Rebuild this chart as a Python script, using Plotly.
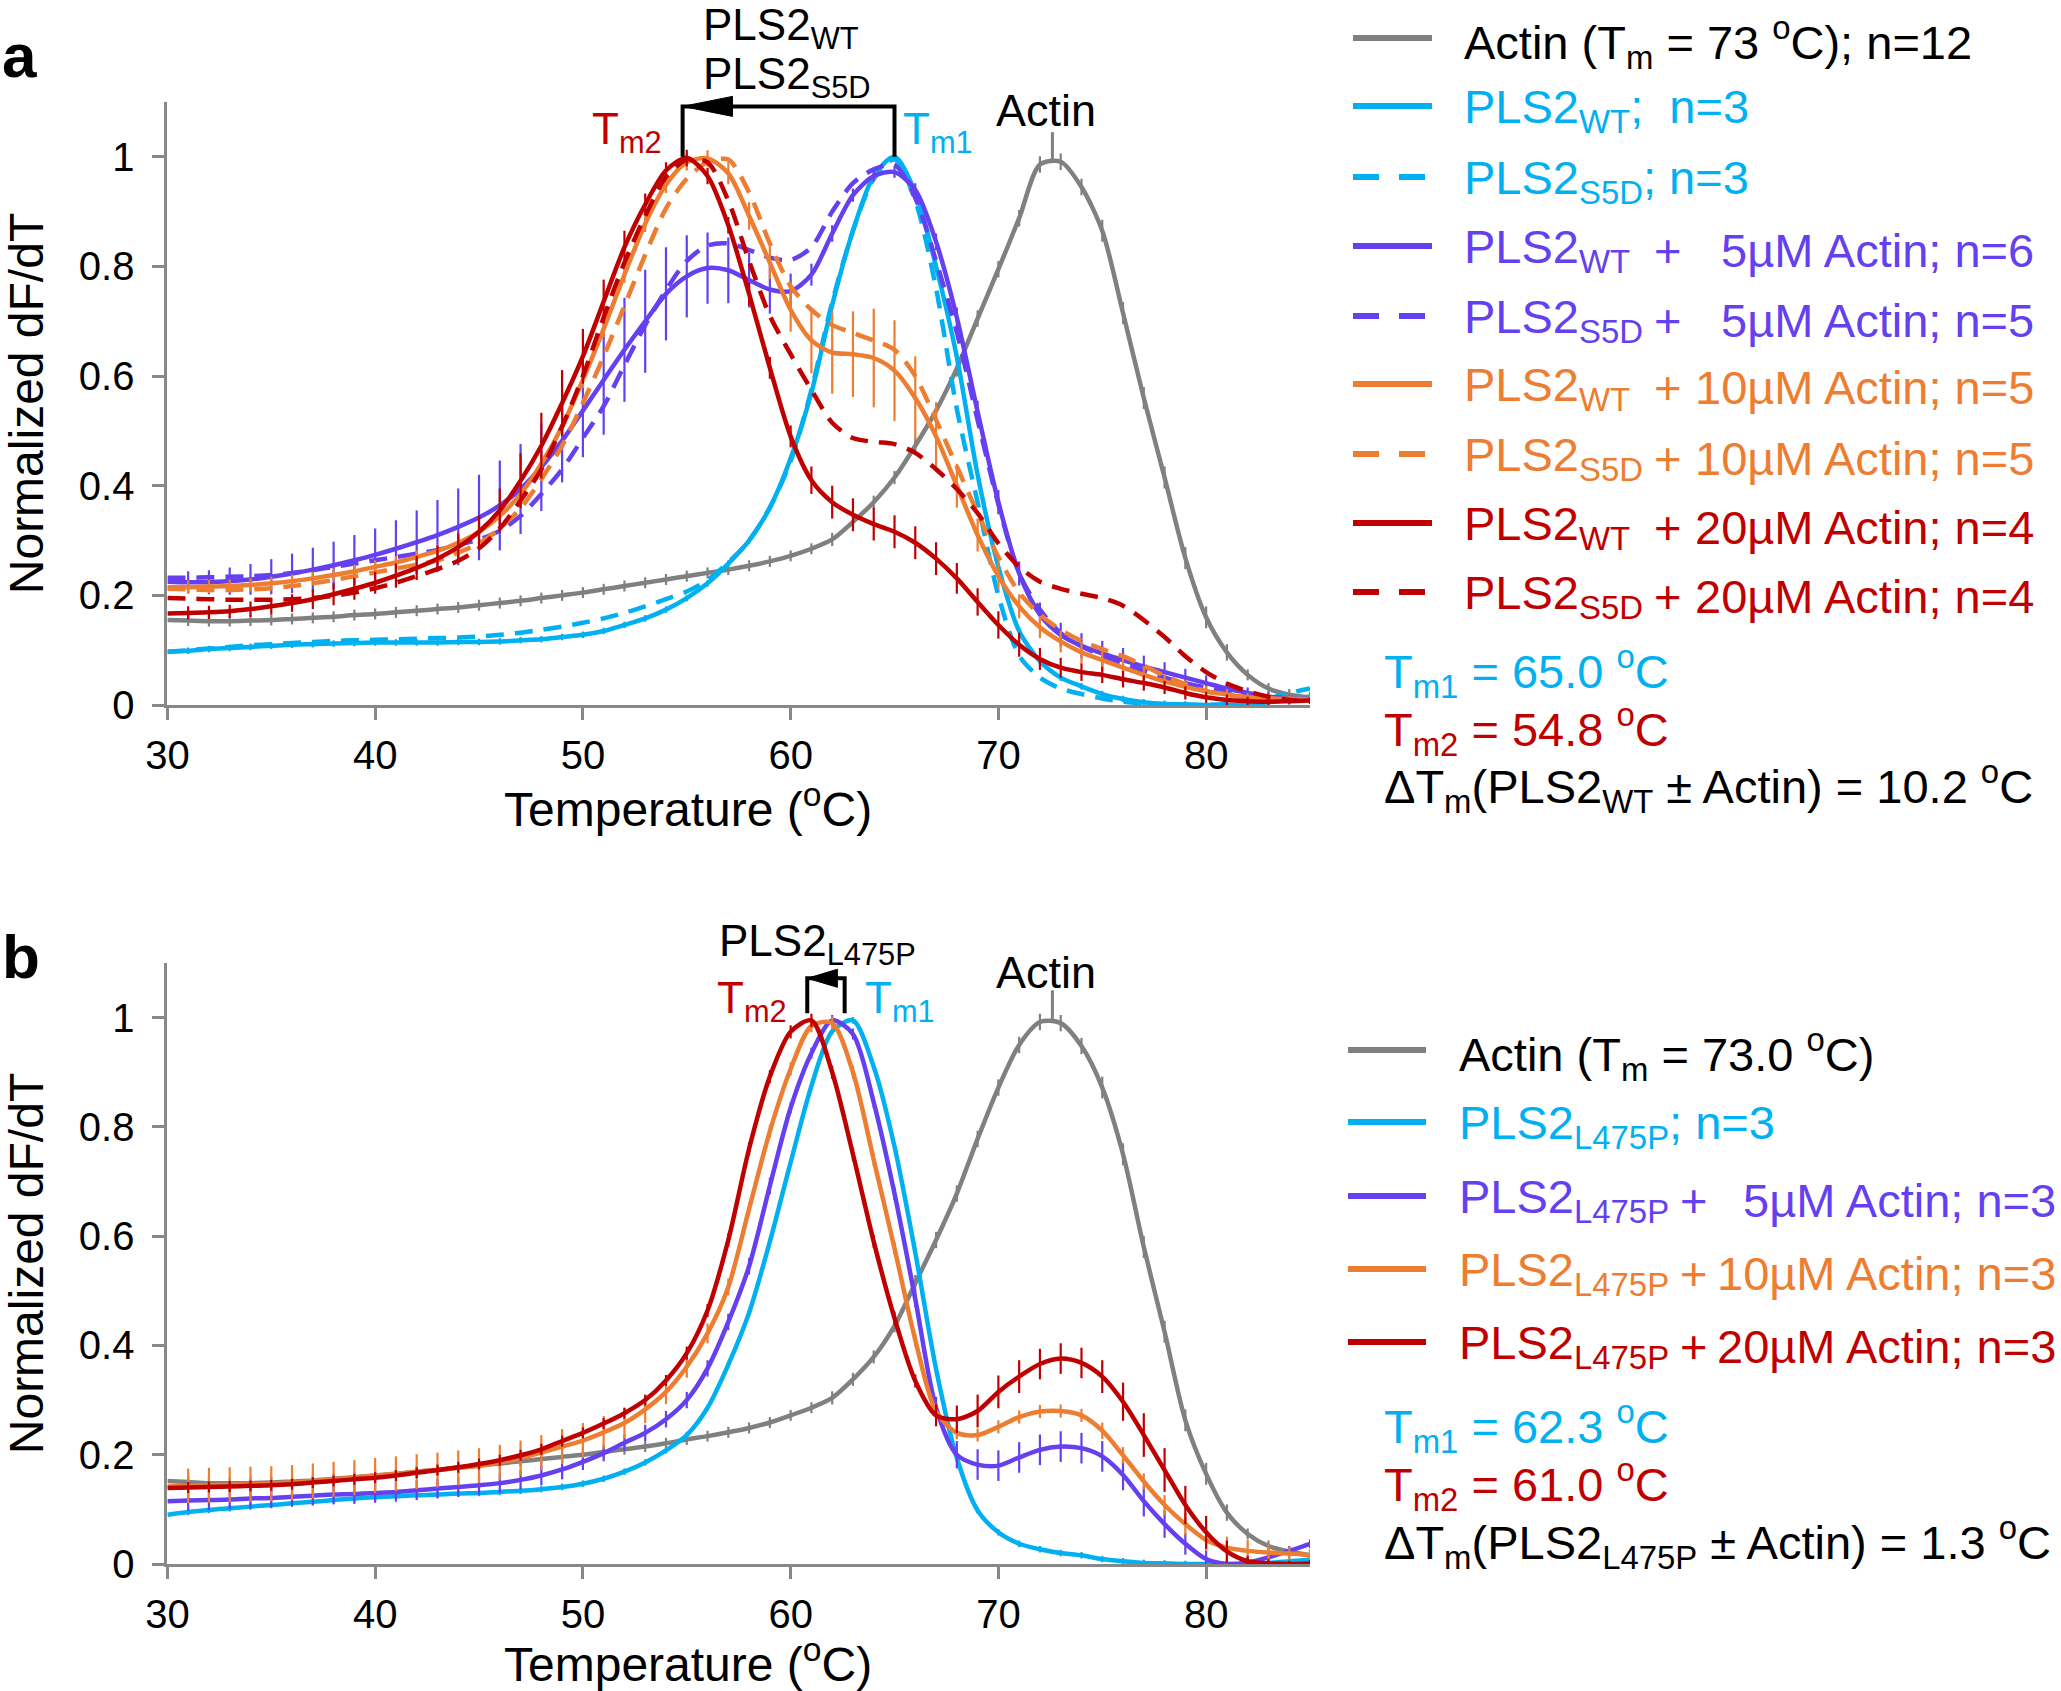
import plotly.graph_objects as go

W, H = 2061, 1691
FONT = "Liberation Sans, Arial, sans-serif"
GRAY, CYAN, PURPLE, ORANGE, RED = "#808080", "#00B0F0", "#6440F0", "#ED7D31", "#C00000"
AXC = "#888888"

T = list(range(30, 86))

# ---------------- panel a data ----------------
actin_a = [0.155, 0.154, 0.153, 0.153, 0.154, 0.155, 0.157, 0.159, 0.161, 0.164,
           0.166, 0.169, 0.172, 0.175, 0.178, 0.182, 0.186, 0.190, 0.195, 0.200,
           0.205, 0.211, 0.217, 0.223, 0.229, 0.235, 0.241, 0.247, 0.254, 0.262,
           0.272, 0.285, 0.302, 0.334, 0.370, 0.415, 0.473, 0.537, 0.614, 0.705,
           0.795, 0.888, 0.986, 0.991, 0.945, 0.865, 0.715, 0.560, 0.415, 0.268,
           0.160, 0.096, 0.055, 0.030, 0.019, 0.014]
actin_err = [0] + [0.01] * 31 + [0.012] * 4 + [0.015] * 9 + [0.02] * 6 + [0.015, 0.01, 0.01, 0.01, 0.01]
wt_a = [0.097, 0.099, 0.102, 0.104, 0.106, 0.108, 0.110, 0.111, 0.112, 0.113,
        0.114, 0.114, 0.114, 0.114, 0.115, 0.115, 0.116, 0.118, 0.120, 0.124,
        0.128, 0.135, 0.146, 0.158, 0.174, 0.195, 0.222, 0.258, 0.300, 0.360,
        0.450, 0.570, 0.730, 0.865, 0.965, 1.000, 0.935, 0.800, 0.635, 0.420,
        0.252, 0.135, 0.080, 0.050, 0.034, 0.020, 0.011, 0.005, 0.002, 0.001,
        0.000, 0.000, 0.001, 0.005, 0.010, 0.015]
small_err = [0] + [0.006] * 55
s5d_a = [0.097, 0.100, 0.103, 0.106, 0.109, 0.111, 0.113, 0.115, 0.117, 0.118,
         0.119, 0.120, 0.121, 0.122, 0.123, 0.125, 0.128, 0.132, 0.137, 0.143,
         0.150, 0.158, 0.168, 0.180, 0.193, 0.207, 0.228, 0.260, 0.300, 0.360,
         0.445, 0.575, 0.735, 0.865, 0.960, 0.995, 0.920, 0.760, 0.540, 0.370,
         0.200, 0.090, 0.050, 0.030, 0.020, 0.012, 0.006, 0.003, 0.001, 0.000,
         0.000, 0.002, 0.006, 0.012, 0.022, 0.030]
wt5_a = [0.225, 0.224, 0.224, 0.226, 0.229, 0.234, 0.240, 0.247, 0.255, 0.264,
         0.274, 0.285, 0.297, 0.310, 0.325, 0.342, 0.364, 0.394, 0.434, 0.482,
         0.537, 0.593, 0.648, 0.700, 0.750, 0.782, 0.797, 0.793, 0.775, 0.758,
         0.755, 0.785, 0.860, 0.930, 0.965, 0.972, 0.940, 0.845, 0.707, 0.535,
         0.370, 0.240, 0.165, 0.128, 0.108, 0.094, 0.082, 0.070, 0.060, 0.050,
         0.040, 0.030, 0.022, 0.015, 0.012, 0.011]
wt5_a_err = [0, 0.020, 0.022, 0.025, 0.028, 0.032, 0.036, 0.040, 0.043, 0.046,
             0.048, 0.052, 0.058, 0.064, 0.070, 0.078, 0.082, 0.082, 0.080, 0.076,
             0.085, 0.100, 0.095, 0.094, 0.085, 0.075, 0.065, 0.060, 0.050, 0.044,
             0.032, 0.020, 0.015, 0.012, 0.010, 0.010, 0.012, 0.015, 0.018, 0.020,
             0.022, 0.022, 0.022, 0.022, 0.023, 0.023, 0.022, 0.020, 0.018, 0.016,
             0.014, 0.012, 0.010, 0.008, 0.006, 0.005]
s5d5_a = [0.232, 0.232, 0.233, 0.234, 0.235, 0.237, 0.241, 0.246, 0.252, 0.258,
          0.264, 0.270, 0.276, 0.283, 0.292, 0.302, 0.318, 0.345, 0.385, 0.430,
          0.487, 0.545, 0.620, 0.693, 0.757, 0.810, 0.838, 0.842, 0.830, 0.816,
          0.812, 0.835, 0.900, 0.952, 0.977, 0.985, 0.925, 0.810, 0.680, 0.520,
          0.366, 0.240, 0.174, 0.131, 0.107, 0.090, 0.075, 0.062, 0.050, 0.040,
          0.032, 0.025, 0.019, 0.015, 0.012, 0.011]
wt10_a = [0.215, 0.215, 0.216, 0.217, 0.219, 0.222, 0.226, 0.231, 0.237, 0.244,
          0.252, 0.260, 0.270, 0.281, 0.296, 0.316, 0.345, 0.385, 0.440, 0.508,
          0.593, 0.686, 0.785, 0.878, 0.949, 0.990, 0.997, 0.970, 0.892, 0.807,
          0.721, 0.665, 0.643, 0.640, 0.633, 0.610, 0.560, 0.490, 0.400, 0.310,
          0.235, 0.180, 0.142, 0.116, 0.096, 0.082, 0.068, 0.055, 0.043, 0.033,
          0.025, 0.019, 0.014, 0.012, 0.011, 0.011]
wt10_a_err = [0, 0.012, 0.012, 0.012, 0.012, 0.012, 0.012, 0.012, 0.012, 0.012,
              0.012, 0.012, 0.012, 0.012, 0.012, 0.015, 0.015, 0.015, 0.015, 0.015,
              0.015, 0.015, 0.015, 0.015, 0.015, 0.015, 0.015, 0.020, 0.025, 0.030,
              0.040, 0.060, 0.075, 0.078, 0.090, 0.092, 0.076, 0.060, 0.040, 0.030,
              0.025, 0.022, 0.020, 0.020, 0.020, 0.020, 0.018, 0.016, 0.014, 0.012,
              0.010, 0.010, 0.008, 0.008, 0.006, 0.006]
s5d10_a = [0.212, 0.211, 0.210, 0.210, 0.211, 0.213, 0.217, 0.222, 0.228, 0.235,
           0.242, 0.249, 0.256, 0.264, 0.278, 0.295, 0.322, 0.359, 0.412, 0.473,
           0.551, 0.636, 0.728, 0.821, 0.906, 0.960, 0.990, 0.995, 0.935, 0.842,
           0.764, 0.721, 0.693, 0.679, 0.665, 0.648, 0.600, 0.520, 0.435, 0.350,
           0.270, 0.205, 0.165, 0.137, 0.117, 0.102, 0.089, 0.072, 0.053, 0.038,
           0.025, 0.018, 0.014, 0.012, 0.011, 0.011]
wt20_a = [0.167, 0.168, 0.169, 0.171, 0.175, 0.180, 0.186, 0.193, 0.202, 0.212,
          0.223, 0.236, 0.250, 0.267, 0.288, 0.316, 0.355, 0.409, 0.473, 0.551,
          0.636, 0.736, 0.835, 0.913, 0.975, 0.998, 0.965, 0.875, 0.750, 0.615,
          0.490, 0.410, 0.370, 0.347, 0.330, 0.316, 0.296, 0.267, 0.231, 0.188,
          0.146, 0.110, 0.084, 0.068, 0.060, 0.055, 0.047, 0.040, 0.032, 0.022,
          0.014, 0.009, 0.007, 0.006, 0.007, 0.008]
wt20_a_err = [0, 0.012, 0.012, 0.012, 0.014, 0.015, 0.016, 0.018, 0.020, 0.020,
              0.020, 0.022, 0.022, 0.024, 0.025, 0.030, 0.040, 0.050, 0.060, 0.060,
              0.050, 0.040, 0.030, 0.020, 0.015, 0.015, 0.015, 0.015, 0.020, 0.020,
              0.020, 0.025, 0.030, 0.030, 0.030, 0.030, 0.030, 0.030, 0.028, 0.025,
              0.025, 0.022, 0.020, 0.018, 0.016, 0.015, 0.015, 0.014, 0.012, 0.012,
              0.010, 0.010, 0.008, 0.008, 0.006, 0.006]
s5d20_a = [0.195, 0.194, 0.193, 0.192, 0.192, 0.192, 0.193, 0.195, 0.199, 0.205,
           0.213, 0.223, 0.235, 0.248, 0.263, 0.286, 0.322, 0.373, 0.430, 0.508,
           0.600, 0.707, 0.807, 0.892, 0.963, 0.995, 0.990, 0.920, 0.810, 0.710,
           0.640, 0.575, 0.515, 0.487, 0.480, 0.476, 0.460, 0.430, 0.394, 0.350,
           0.295, 0.252, 0.225, 0.212, 0.203, 0.195, 0.181, 0.155, 0.124, 0.089,
           0.060, 0.039, 0.025, 0.015, 0.009, 0.007]

# ---------------- panel b data ----------------
actin_b = [0.152, 0.150, 0.148, 0.148, 0.148, 0.149, 0.151, 0.153, 0.156, 0.159,
           0.162, 0.165, 0.169, 0.172, 0.176, 0.180, 0.184, 0.188, 0.192, 0.196,
           0.200, 0.205, 0.210, 0.215, 0.221, 0.228, 0.234, 0.241, 0.249, 0.259,
           0.272, 0.286, 0.304, 0.338, 0.379, 0.436, 0.514, 0.593, 0.678, 0.778,
           0.872, 0.950, 0.992, 0.990, 0.948, 0.872, 0.750, 0.580, 0.425, 0.263,
           0.165, 0.094, 0.055, 0.033, 0.023, 0.016]
l475_b = [0.090, 0.095, 0.099, 0.102, 0.105, 0.108, 0.111, 0.114, 0.117, 0.120,
          0.122, 0.124, 0.126, 0.127, 0.129, 0.130, 0.132, 0.134, 0.137, 0.141,
          0.147, 0.156, 0.169, 0.186, 0.208, 0.236, 0.286, 0.365, 0.460, 0.590,
          0.735, 0.875, 0.975, 0.995, 0.910, 0.764, 0.570, 0.357, 0.194, 0.098,
          0.058, 0.037, 0.027, 0.020, 0.016, 0.009, 0.005, 0.002, 0.001, 0.000,
          0.000, 0.000, 0.000, 0.002, 0.005, 0.008]
l475_5_b = [0.115, 0.116, 0.117, 0.118, 0.120, 0.121, 0.123, 0.125, 0.127, 0.128,
            0.130, 0.132, 0.135, 0.138, 0.141, 0.144, 0.148, 0.154, 0.162, 0.173,
            0.187, 0.203, 0.222, 0.240, 0.265, 0.300, 0.358, 0.443, 0.545, 0.692,
            0.835, 0.935, 0.995, 0.970, 0.845, 0.678, 0.485, 0.286, 0.200, 0.182,
            0.180, 0.195, 0.209, 0.215, 0.212, 0.197, 0.163, 0.115, 0.073, 0.037,
            0.009, 0.000, 0.003, 0.012, 0.024, 0.037]
l475_5_b_err = [0] + [0.018] * 19 + [0.015] * 10 + [0.01, 0.01, 0.01, 0.01, 0.01, 0.012, 0.015, 0.02, 0.025, 0.028] + \
               [0.028] * 8 + [0.025, 0.02] + [0.015, 0.01, 0.01, 0.008, 0.008, 0.008]
l475_10_b = [0.142, 0.143, 0.144, 0.145, 0.146, 0.147, 0.149, 0.152, 0.155, 0.158,
             0.162, 0.165, 0.169, 0.172, 0.176, 0.180, 0.186, 0.194, 0.204, 0.215,
             0.226, 0.241, 0.258, 0.283, 0.315, 0.361, 0.422, 0.507, 0.650, 0.792,
             0.906, 0.985, 0.990, 0.900, 0.740, 0.578, 0.410, 0.279, 0.240, 0.236,
             0.251, 0.269, 0.279, 0.280, 0.272, 0.244, 0.199, 0.151, 0.108, 0.073,
             0.044, 0.030, 0.024, 0.021, 0.019, 0.016]
l475_10_b_err = [0] + [0.032] * 19 + [0.032, 0.03, 0.028, 0.025, 0.022, 0.02, 0.018, 0.015, 0.012, 0.012] + \
                [0.012] * 15 + [0.015, 0.015, 0.015, 0.018, 0.02] + [0.02, 0.02, 0.02, 0.015, 0.012, 0.01]
l475_20_b = [0.139, 0.140, 0.141, 0.142, 0.143, 0.144, 0.146, 0.149, 0.152, 0.155,
             0.158, 0.162, 0.167, 0.172, 0.177, 0.183, 0.190, 0.199, 0.210, 0.225,
             0.240, 0.257, 0.276, 0.300, 0.336, 0.386, 0.464, 0.593, 0.760, 0.892,
             0.974, 0.995, 0.900, 0.750, 0.590, 0.450, 0.335, 0.272, 0.265, 0.280,
             0.315, 0.343, 0.366, 0.376, 0.368, 0.343, 0.297, 0.236, 0.172, 0.108,
             0.058, 0.023, 0.005, 0.001, 0.000, 0.001]
l475_20_b_err = [0] + [0.01] * 24 + [0.012] * 12 + [0.02, 0.025, 0.03] + \
                [0.03, 0.03, 0.028, 0.028, 0.028, 0.03, 0.035, 0.04, 0.04, 0.035] + [0.03, 0.02, 0.01, 0.008, 0.006, 0.006]

# peak / Tm markers
TM1_A, TM2_A = 65.0, 54.8
BRACKET_B = (60.8, 62.6)
ACTIN_PEAK = 72.6

# ---------------- geometry helpers ----------------
YMAX = 1.1
XL, XR = 167.4 / W, 1310 / W
YA0, YA1 = 1 - 705 / H, 1 - 102 / H
YB0, YB1 = 1 - 1564 / H, 1 - 963 / H


def px(x):
    return x / W


def py(y):
    return 1 - y / H


def ya(v):
    return YA0 + v / YMAX * (YA1 - YA0)


def yb(v):
    return YB0 + v / YMAX * (YB1 - YB0)


fig = go.Figure()


def add(xa, ya_, y, color, dash=None, err=None):
    kw = dict(x=T, y=y, mode="lines", xaxis=xa, yaxis=ya_, showlegend=False, hoverinfo="skip",
              line=dict(color=color, width=4.5, shape="spline", smoothing=0.8,
                        dash=dash if dash else "solid"))
    if err is not None:
        kw["error_y"] = dict(type="data", array=err, visible=True, color=color, thickness=2.2, width=0)
    fig.add_trace(go.Scatter(**kw))


DASH = "18px,11px"
add("x", "y", actin_a, GRAY, err=actin_err)
add("x", "y", wt_a, CYAN, err=small_err)
add("x", "y", s5d_a, CYAN, dash=DASH)
add("x", "y", wt5_a, PURPLE, err=wt5_a_err)
add("x", "y", s5d5_a, PURPLE, dash=DASH)
add("x", "y", wt10_a, ORANGE, err=wt10_a_err)
add("x", "y", s5d10_a, ORANGE, dash=DASH)
add("x", "y", wt20_a, RED, err=wt20_a_err)
add("x", "y", s5d20_a, RED, dash=DASH)

add("x2", "y2", actin_b, GRAY, err=actin_err)
add("x2", "y2", l475_b, CYAN, err=small_err)
add("x2", "y2", l475_5_b, PURPLE, err=l475_5_b_err)
add("x2", "y2", l475_10_b, ORANGE, err=l475_10_b_err)
add("x2", "y2", l475_20_b, RED, err=l475_20_b_err)

axis_common = dict(showline=True, linecolor=AXC, linewidth=3, ticks="outside", ticklen=12,
                   tickwidth=3, tickcolor=AXC, showgrid=False, zeroline=False, automargin=False,
                   tickfont=dict(family=FONT, size=40, color="black"))
xcommon = dict(axis_common, range=[30, 85], tickvals=[30, 40, 50, 60, 70, 80], ticklabelstandoff=1)
ycommon = dict(axis_common, range=[0, YMAX], tickvals=[0, 0.2, 0.4, 0.6, 0.8, 1],
               ticktext=["0", "0.2", "0.4", "0.6", "0.8", "1"], ticklabelstandoff=10,
               title=dict(text="Normalized dF/dT", font=dict(family=FONT, size=48, color="black"),
                          standoff=20))

fig.update_layout(
    template="none",
    width=W, height=H, margin=dict(l=0, r=0, t=0, b=0, pad=0), autosize=False,
    paper_bgcolor="white", plot_bgcolor="white",
    font=dict(family=FONT, color="black"),
    xaxis=dict(xcommon, domain=[XL, XR], anchor="y"),
    yaxis=dict(ycommon, domain=[YA0, YA1], anchor="x"),
    xaxis2=dict(xcommon, domain=[XL, XR], anchor="y2"),
    yaxis2=dict(ycommon, domain=[YB0, YB1], anchor="x2"),
)

shapes = []
ann = []


def text(x, y, s, color="black", size=47, xanchor="left", xref="paper", yref="paper", bold=False):
    ann.append(dict(x=x, y=y, xref=xref, yref=yref, text=("<b>%s</b>" % s) if bold else s,
                    showarrow=False, xanchor=xanchor, yanchor="middle",
                    font=dict(family=FONT, size=size, color=color)))


# panel letters
text(px(0), py(56), "a", size=62, bold=True)
text(px(0), py(956), "b", size=62, bold=True)

# x axis titles
text(px(688), py(806), "Temperature (<sup>o</sup>C)", size=48, xanchor="center")
text(px(688), py(1661), "Temperature (<sup>o</sup>C)", size=48, xanchor="center")


# ---------- bracket annotations ----------
def bracket(x1, x2, yf, vbot, vtop, alen, ah):
    xr = "x" if yf is ya else "x2"
    yt, ybm = yf(vtop), yf(vbot)
    shapes.append(dict(type="path", xref=xr, yref="paper",
                       path="M %f,%f L %f,%f L %f,%f L %f,%f" % (x1, ybm, x1, yt, x2, yt, x2, ybm),
                       line=dict(color="black", width=4)))
    dh = ah / H
    shapes.append(dict(type="path", xref=xr, yref="paper",
                       path="M %f,%f L %f,%f L %f,%f Z" % (x1, yt, x1 + alen, yt + dh, x1 + alen, yt - dh),
                       fillcolor="black", line=dict(color="black", width=1)))


bracket(TM2_A, TM1_A, ya, 1.0, 1.092, 2.4, 10)
bracket(BRACKET_B[0], BRACKET_B[1], yb, 1.008, 1.072, 1.45, 9)

for yf, xr, top in ((ya, "x", 1.045), (yb, "x2", 1.05)):
    shapes.append(dict(type="line", xref=xr, yref="paper", x0=ACTIN_PEAK, x1=ACTIN_PEAK,
                       y0=yf(0.995), y1=yf(top), line=dict(color=GRAY, width=3)))

text(px(701), py(28), "PLS2<sub>WT</sub>", size=44)
text(px(701), py(77), "PLS2<sub>S5D</sub>", size=44)
text(TM2_A - 0.9, 1.045, "T<sub>m2</sub>", color=RED, size=44, xanchor="right", xref="x", yref="y")
text(TM1_A + 0.3, 1.045, "T<sub>m1</sub>", color=CYAN, size=44, xanchor="left", xref="x", yref="y")
text(ACTIN_PEAK - 0.3, 1.085, "Actin", size=45, xanchor="center", xref="x", yref="y")

text(px(717), py(944), "PLS2<sub>L475P</sub>", size=44)
text(BRACKET_B[0] - 0.9, 1.03, "T<sub>m2</sub>", color=RED, size=44, xanchor="right", xref="x2", yref="y2")
text(BRACKET_B[1] + 0.9, 1.03, "T<sub>m1</sub>", color=CYAN, size=44, xanchor="left", xref="x2", yref="y2")
text(ACTIN_PEAK - 0.3, 1.082, "Actin", size=45, xanchor="center", xref="x2", yref="y2")

# ---------- legends ----------
rows_a = [
    (GRAY, "black", False, "Actin (T<sub>m</sub> = 73 <sup>o</sup>C); n=12", None, None),
    (CYAN, CYAN, False, "PLS2<sub>WT</sub>;  n=3", None, None),
    (CYAN, CYAN, True, "PLS2<sub>S5D</sub>; n=3", None, None),
    (PURPLE, PURPLE, False, "PLS2<sub>WT</sub>", "+", "5µM Actin; n=6"),
    (PURPLE, PURPLE, True, "PLS2<sub>S5D</sub>", "+", "5µM Actin; n=5"),
    (ORANGE, ORANGE, False, "PLS2<sub>WT</sub>", "+", "10µM Actin; n=5"),
    (ORANGE, ORANGE, True, "PLS2<sub>S5D</sub>", "+", "10µM Actin; n=5"),
    (RED, RED, False, "PLS2<sub>WT</sub>", "+", "20µM Actin; n=4"),
    (RED, RED, True, "PLS2<sub>S5D</sub>", "+", "20µM Actin; n=4"),
]
rows_a_y = [38, 106, 177, 246, 316, 384, 454, 523, 592]
rows_b = [
    (GRAY, "black", False, "Actin (T<sub>m</sub> = 73.0 <sup>o</sup>C)", None, None),
    (CYAN, CYAN, False, "PLS2<sub>L475P</sub>; n=3", None, None),
    (PURPLE, PURPLE, False, "PLS2<sub>L475P</sub>", "+", "5µM Actin; n=3"),
    (ORANGE, ORANGE, False, "PLS2<sub>L475P</sub>", "+", "10µM Actin; n=3"),
    (RED, RED, False, "PLS2<sub>L475P</sub>", "+", "20µM Actin; n=3"),
]
rows_b_y = [1050, 1122, 1196, 1269, 1342]


def legend(rows, ys, lx0, lx1, tx, plus_x, right_x):
    for (c, tc, dashed, name, plus, rest), y in zip(rows, ys):
        shapes.append(dict(type="line", xref="paper", yref="paper", x0=px(lx0), x1=px(lx1 if not dashed else lx1 - 7),
                           y0=py(y), y1=py(y),
                           line=dict(color=c, width=6, dash="26px,20px" if dashed else "solid")))
        text(px(tx), py(y + 4), name, color=tc)
        if plus:
            text(px(plus_x), py(y + 4), plus, color=tc, xanchor="center")
            text(px(right_x), py(y + 4), rest, color=tc, xanchor="right")


legend(rows_a, rows_a_y, 1353, 1432, 1462, 1667, 2036)
legend(rows_b, rows_b_y, 1348, 1426, 1457, 1693, 2058)

text(px(1382), py(671), "T<sub>m1</sub> = 65.0 <sup>o</sup>C", color=CYAN)
text(px(1382), py(729), "T<sub>m2</sub> = 54.8 <sup>o</sup>C", color=RED)
text(px(1382), py(786), "ΔT<sub>m</sub>(PLS2<sub>WT</sub> ± Actin) = 10.2 <sup>o</sup>C")
text(px(1382), py(1426), "T<sub>m1</sub> = 62.3 <sup>o</sup>C", color=CYAN)
text(px(1382), py(1484), "T<sub>m2</sub> = 61.0 <sup>o</sup>C", color=RED)
text(px(1382), py(1542), "ΔT<sub>m</sub>(PLS2<sub>L475P</sub> ± Actin) = 1.3 <sup>o</sup>C")

fig.update_layout(shapes=shapes, annotations=ann)
fig.write_html("out.html", config={"displayModeBar": False},
               post_script="document.body.style.margin='0px';")
